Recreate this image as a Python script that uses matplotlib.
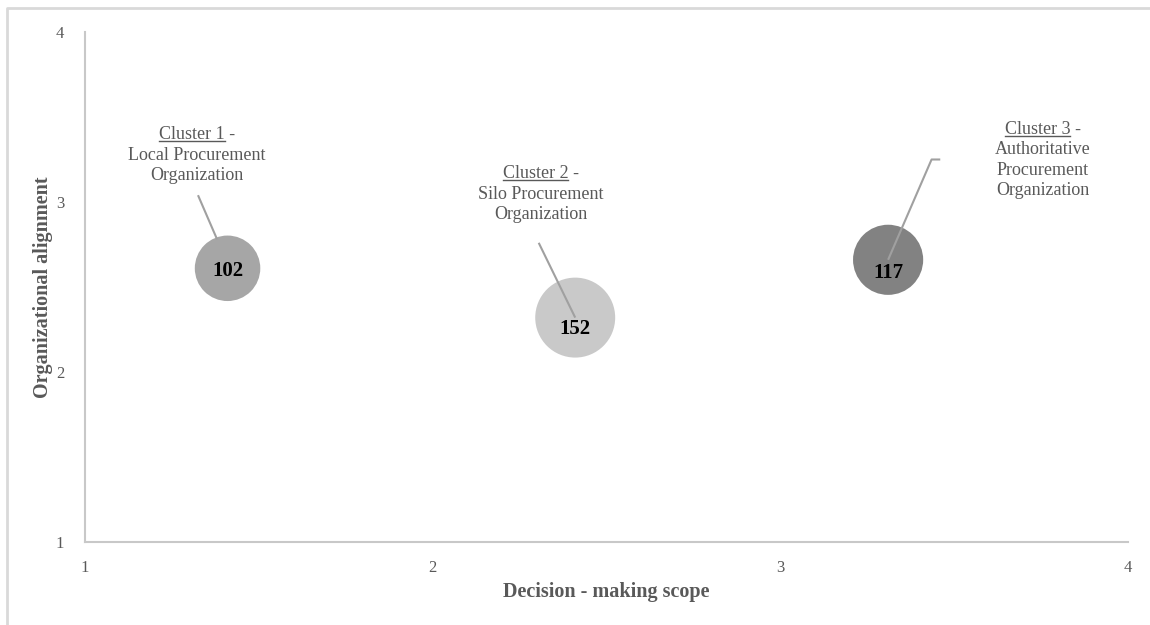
import matplotlib.pyplot as plt
from matplotlib.lines import Line2D

plt.rcParams['font.family'] = ['Liberation Serif', 'DejaVu Serif']

# Cluster centres and sizes
clusters = ['Cluster 1', 'Cluster 2', 'Cluster 3']
names = ['Local Procurement\nOrganization',
         'Silo Procurement\nOrganization',
         'Authoritative\nProcurement\nOrganization']
scope = [1.41, 2.41, 3.31]
alignment = [2.61, 2.32, 2.66]
counts = [102, 152, 117]
colors = ['#a6a6a6', '#c9c9c9', '#828282']

# where each label block sits (data coords), leader line paths, number offsets
label_pos = [(1.322, 3.276), (2.311, 3.047), (3.755, 3.247)]
leaders = [[(1.325, 3.04), (1.38, 2.78)],
           [(2.305, 2.76), (2.41, 2.32)],
           [(3.46, 3.25), (3.435, 3.25), (3.31, 2.66)]]
num_dy = [-0.018, -0.065, -0.075]

fig = plt.figure(figsize=(11.5, 6.25), dpi=100)
ax = fig.add_axes([85/1150, 1-542/625, (1128-85)/1150, (542-32)/625])

grey = '#595959'
ax.set_xlim(1, 4)
ax.set_ylim(1, 4)
ax.set_xticks([1, 2, 3, 4])
ax.set_yticks([1, 2, 3, 4])
ax.tick_params(length=0, labelsize=12, colors=grey)
ax.tick_params(axis='x', pad=13)
ax.tick_params(axis='y', pad=15)
for s in ['top', 'right']:
    ax.spines[s].set_visible(False)
for s in ['left', 'bottom']:
    ax.spines[s].set_color('#c8c8c8')
    ax.spines[s].set_linewidth(1.5)
ax.set_xlabel('Decision - making scope', fontsize=14.5, fontweight='bold', color=grey)
ax.set_ylabel('Organizational alignment', fontsize=14.5, fontweight='bold', color=grey)
ax.xaxis.set_label_coords(0.5, -0.078)
ax.yaxis.set_label_coords(-0.031, 0.5)

# bubble area proportional to count
k = 21.8
ax.scatter(scope, alignment, s=[c * k for c in counts], c=colors, zorder=2, linewidths=0)
for x, y, c, dy in zip(scope, alignment, counts, num_dy):
    ax.text(x, y + dy, str(c), ha='center', va='center', fontsize=15,
            fontweight='bold', color='black', zorder=4)

for path in leaders:
    xs, ys = zip(*path)
    ax.plot(xs, ys, color='#a0a0a0', lw=1.5, zorder=3, solid_capstyle='butt')

fig.canvas.draw()
r = fig.canvas.get_renderer()
for name, cl, (lx, ly) in zip(clusters, names, label_pos):
    t = ax.text(lx, ly, name + ' -\n' + cl, ha='center', va='center', fontsize=13,
                color=grey, linespacing=1.25, zorder=4)
    # underline the cluster number on the first line
    bb = t.get_window_extent(r)
    full = ax.text(0, 0, name + ' -', fontsize=13)
    part = ax.text(0, 0, name, fontsize=13)
    wf = full.get_window_extent(r).width
    wp = part.get_window_extent(r).width
    hl = full.get_window_extent(r).height
    full.remove()
    part.remove()
    x0 = (bb.x0 + bb.x1) / 2 - wf / 2
    yline = bb.y1 - hl + 2.5
    fig.add_artist(Line2D([x0, x0 + wp], [yline, yline], transform=None,
                          color=grey, lw=1))

# outer chart frame
fig.add_artist(Line2D([7/1150, 7/1150, 1.0], [0, 1-8/625, 1-8/625],
                      transform=fig.transFigure, color='#d9d9d9', lw=2))

fig.savefig('out.png', dpi=100)
